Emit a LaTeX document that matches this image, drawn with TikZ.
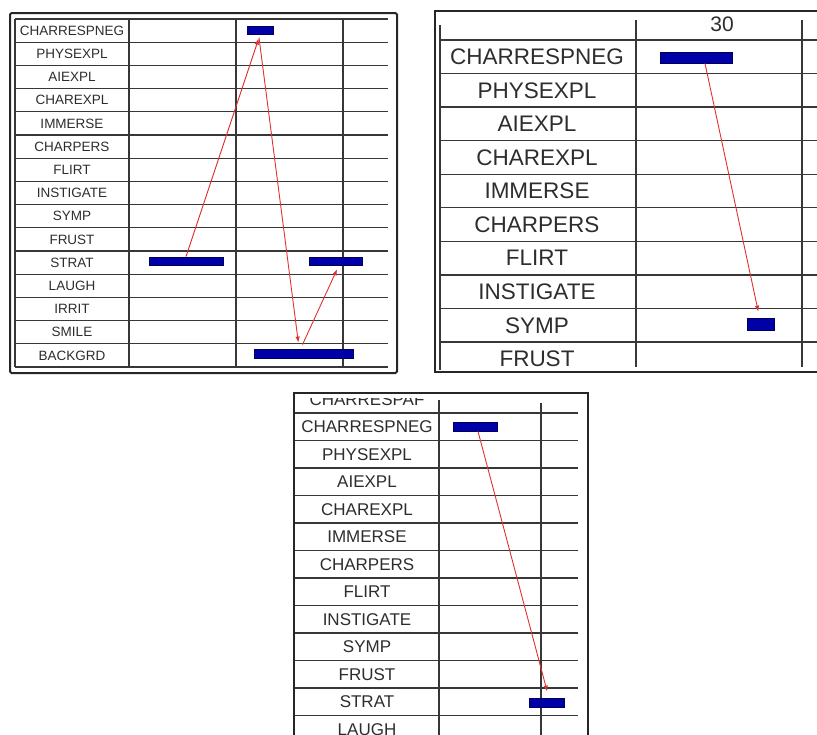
\documentclass[tikz,border=0pt]{standalone}
\usepackage{fontspec}
\setmainfont{Liberation Sans}
\usetikzlibrary{arrows.meta,calc}

\definecolor{barblue}{RGB}{0,0,168}
\definecolor{barline}{RGB}{0,0,90}
\definecolor{arrowred}{RGB}{222,50,50}
\definecolor{gridgray}{RGB}{55,55,55}
\definecolor{textgray}{RGB}{45,45,45}

\begin{document}
\begin{tikzpicture}[x=1pt,y=-1pt]

% --------------------
% Parameters (pixel units, y down)
% --------------------
\def\rowA{23.2}   % row height, left panel
\def\rowB{33.56}  % row height, right panel
\def\rowC{27.5}   % row height, bottom panel

\tikzset{
  rowline/.style={draw=gridgray, line width=1.3pt},
  panelframe/.style={draw=black!85, line width=2pt},
  evbar/.style={draw=barline, fill=barblue, line width=0.8pt, inner sep=0pt},
  seqarrow/.style={-{Latex[length=6pt,width=4.5pt]}, draw=arrowred, line width=0.9pt, shorten >=1pt},
  lbl/.style={text=textgray, inner sep=0pt}
}

\clip (0,0) rectangle (817,734);

% --------------------
% Left panel
% --------------------
\foreach \i in {0,...,15}
  \draw[rowline] (15,{19+\rowA*\i}) -- (388,{19+\rowA*\i});
\foreach \xv in {15,129,236,343}
  \draw[rowline] (\xv,19) -- (\xv,367);

\foreach \lab [count=\i from 0] in {CHARRESPNEG,PHYSEXPL,AIEXPL,CHAREXPL,IMMERSE,CHARPERS,FLIRT,INSTIGATE,SYMP,FRUST,STRAT,LAUGH,IRRIT,SMILE,BACKGRD}
  \node[lbl, font=\fontsize{13.5}{14}\selectfont] (pa\i) at (72,{19+\rowA*(\i+0.5)}) {\lab};

\node[evbar, minimum width=26pt, minimum height=7.5pt] (paneg) at (260,30.5) {};
\node[evbar, minimum width=74pt, minimum height=8pt] (pastratL) at (186,261) {};
\node[evbar, minimum width=53pt, minimum height=8pt] (pastratR) at (335.5,261) {};
\node[evbar, minimum width=99pt, minimum height=9pt] (paback) at (303.5,353.5) {};

\draw[seqarrow] (pastratL.north) -- ($(paneg.south)+(-1,3)$);
\draw[seqarrow] ($(paneg.south)+(-1,3)$) -- ($(paback.north)+(-5,-5)$);
\draw[seqarrow] ($(paback.north)+(-1,-4)$) -- ($(pastratR.south)+(2,3)$);

\draw[panelframe, rounded corners=1.5pt] (10,13) rectangle (397,373);

% --------------------
% Right panel (header row "30")
% --------------------
\foreach \i in {0,...,9}
  \draw[rowline] (440,{40+\rowB*\i}) -- (830,{40+\rowB*\i});
\draw[rowline] (440,25) -- (440,370);
\foreach \xv in {636,802}
  \draw[rowline] (\xv,20) -- (\xv,367);

\node[lbl, font=\fontsize{21}{22}\selectfont] (pbhead) at (722,24) {30};
\foreach \lab [count=\i from 0] in {CHARRESPNEG,PHYSEXPL,AIEXPL,CHAREXPL,IMMERSE,CHARPERS,FLIRT,INSTIGATE,SYMP,FRUST}
  \node[lbl, font=\fontsize{22.5}{23}\selectfont] (pb\i) at (537,{40+\rowB*(\i+0.5)}) {\lab};

\node[evbar, minimum width=72pt, minimum height=11pt] (pbneg) at (696,57.5) {};
\node[evbar, minimum width=27pt, minimum height=12pt] (pbsymp) at (760.5,324) {};

\draw[seqarrow] ($(pbneg.south)+(9,0)$) -- ($(pbsymp.north)+(-2,-5)$);

\draw[panelframe] (830,11) -- (435,11) -- (435,372) -- (830,372);

% --------------------
% Bottom panel (scrolled, cut at top and bottom)
% --------------------
\begin{scope}
  \clip (294,398) rectangle (588,740);
  \foreach \i in {0,...,11}
    \draw[rowline] (294,{413+\rowC*\i}) -- (578,{413+\rowC*\i});
  \draw[rowline] (439,400) -- (439,740);
  \draw[rowline] (541,403) -- (541,740);
  \foreach \lab [count=\i from 0] in {CHARRESPAF,CHARRESPNEG,PHYSEXPL,AIEXPL,CHAREXPL,IMMERSE,CHARPERS,FLIRT,INSTIGATE,SYMP,FRUST,STRAT,LAUGH}
    \node[lbl, font=\fontsize{17}{18}\selectfont] (pc\i) at (367,{413+\rowC*(\i-0.5)}) {\lab};
\end{scope}

\node[evbar, minimum width=44pt, minimum height=9pt] (pcneg) at (475,426.5) {};
\node[evbar, minimum width=35pt, minimum height=9pt] (pcstrat) at (546.5,702.5) {};

\draw[seqarrow] ($(pcneg.south)+(3,0)$) -- ($(pcstrat.north)+(1,-5)$);

\draw[panelframe] (294,740) -- (294,393) -- (588,393) -- (588,740);

\end{tikzpicture}
\end{document}
